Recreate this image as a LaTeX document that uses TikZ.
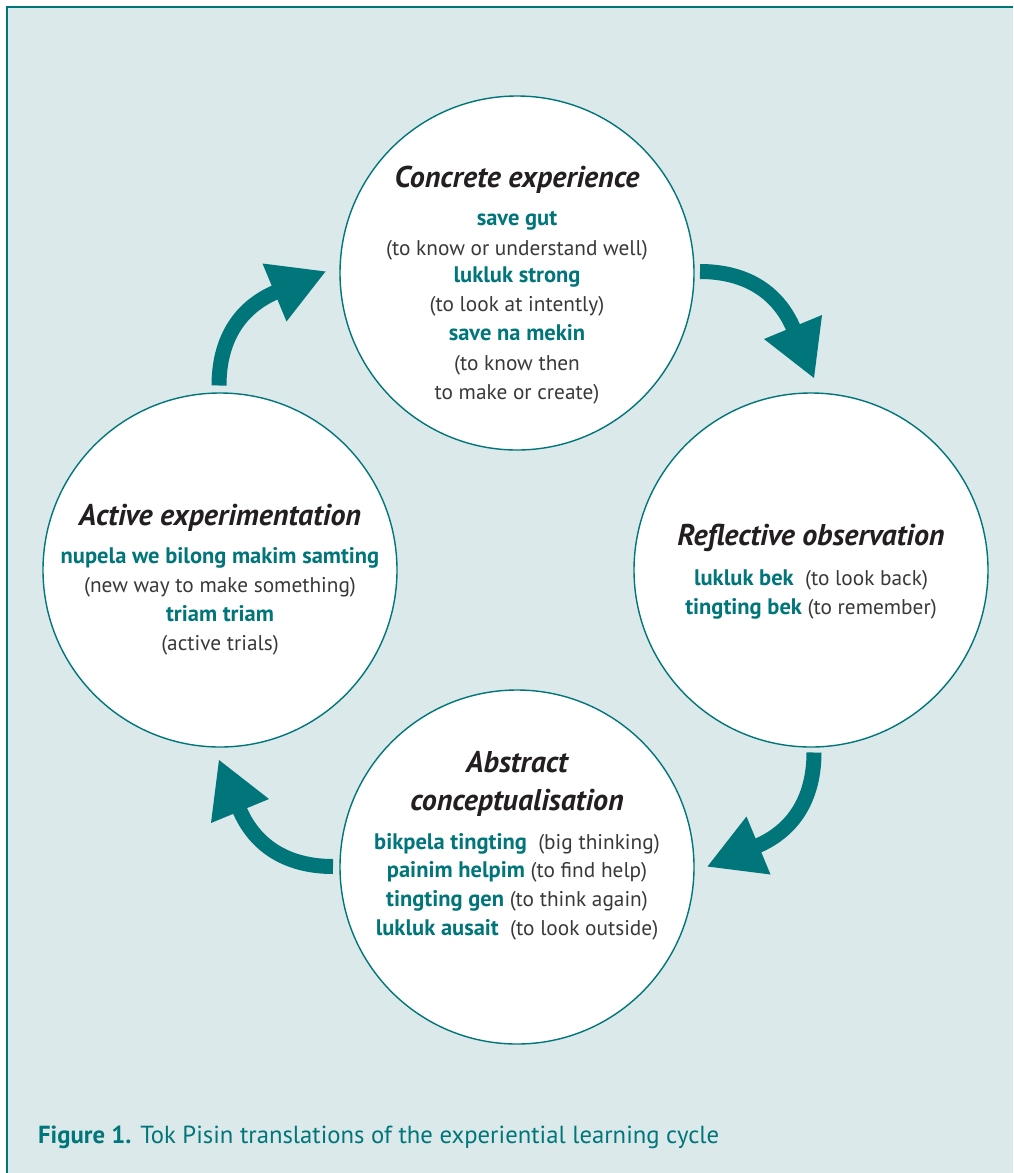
\documentclass[tikz,border=0pt]{standalone}
\usepackage{fontspec}
\setmainfont{PT Sans}
\definecolor{tealc}{HTML}{00757A}
\definecolor{bgc}{HTML}{DCE9EA}
\definecolor{txtc}{HTML}{231F20}
\definecolor{softc}{HTML}{3A3838}
\tikzset{
  stage/.style={circle, draw=tealc, line width=1.4pt, fill=white, minimum size=354pt, inner sep=0pt},
  ttl/.style={anchor=base, text=txtc, font=\fontsize{30}{34}\selectfont\bfseries\itshape, inner sep=0pt},
  term/.style={anchor=base, text=tealc, font=\fontsize{22.5}{26}\selectfont\bfseries, inner sep=0pt},
  gloss/.style={anchor=base, text=softc, font=\fontsize{21.3}{25}\selectfont, inner sep=0pt},
  mixed/.style={anchor=base, text=softc, font=\fontsize{21.3}{25}\selectfont, inner sep=0pt},
  band/.style={draw=tealc, line width=15pt, line cap=butt},
  head/.style={fill=tealc},
}
\newcommand{\tm}[1]{\textcolor{tealc}{\fontsize{22.5}{26}\selectfont\bfseries #1}}
\begin{document}
\begin{tikzpicture}[x=1pt,y=-1pt]
\useasboundingbox (0,0) rectangle (1013,1173);
\fill[white] (0,0) rectangle (1013,1173);
\fill[bgc] (7,7) rectangle (1013,1173);
\draw[tealc, line width=2pt] (7,1173) -- (7,7) -- (1013,7);

% arrows
\coordinate (a1s) at (700,271.5);
\coordinate (a1e) at (794.1,329.8);
\draw[band] (a1s) .. controls (741.7,271.5) and (777,288.6) .. (a1e);
\fill[head] (764,339) -- (822,315) -- (814,378) -- cycle;

\coordinate (a2s) at (814,752.5);
\coordinate (a2e) at (755.7,846.6);
\draw[band] (a2s) .. controls (814,794.2) and (796.9,829.5) .. (a2e);
\fill[head] (746.5,816.5) -- (770.5,874.5) -- (707.5,866.5) -- cycle;

\coordinate (a3s) at (333,866.5);
\coordinate (a3e) at (238.9,808.2);
\draw[band] (a3s) .. controls (291.3,866.5) and (256,849.4) .. (a3e);
\fill[head] (269,799) -- (211,823) -- (219,760) -- cycle;

\coordinate (a4s) at (219,385.5);
\coordinate (a4e) at (277.3,291.4);
\draw[band] (a4s) .. controls (219,343.8) and (236.1,308.5) .. (a4e);
\fill[head] (286.5,321.5) -- (262.5,263.5) -- (325.5,271.5) -- cycle;

% circles
\node[stage] (ce) at (517,273) {};
\node[stage] (ro) at (811,570) {};
\node[stage] (ae) at (220,570) {};
\node[stage] (ac) at (517,867) {};

% top circle text
\node[ttl] (ce0) at (517,187) {Concrete experience};
\node[term] (ce1) at (517,225) {save gut};
\node[gloss] (ce2) at (517,255) {(to know or understand well)};
\node[term] (ce3) at (517,282) {lukluk strong};
\node[gloss] (ce4) at (517,311) {(to look at intently)};
\node[term] (ce5) at (517,340) {save na mekin};
\node[gloss] (ce6) at (517,370) {(to know then};
\node[gloss] (ce7) at (517,399) {to make or create)};

% right circle text
\node[ttl] (ro0) at (811,545) {Reflective observation};
\node[mixed] (ro1) at (811,585) {\tm{lukluk bek}\ \ (to look back)};
\node[mixed] (ro2) at (811,614) {\tm{tingting bek} (to remember)};

% left circle text
\node[ttl] (ae0) at (220,525) {Active experimentation};
\node[term] (ae1) at (220,563) {nupela we bilong makim samting};
\node[gloss] (ae2) at (220,592) {(new way to make something)};
\node[term] (ae3) at (220,621) {triam triam};
\node[gloss] (ae4) at (220,650) {(active trials)};

% bottom circle text
\node[ttl] (ac0) at (517,772) {Abstract};
\node[ttl] (ac1) at (517,810) {conceptualisation};
\node[mixed] (ac2) at (517,849) {\tm{bikpela tingting}\ \ (big thinking)};
\node[mixed] (ac3) at (517,877) {\tm{painim helpim} (to find help)};
\node[mixed] (ac4) at (517,906) {\tm{tingting gen} (to think again)};
\node[mixed] (ac5) at (517,935) {\tm{lukluk ausait}\ \ (to look outside)};

% caption
\node[anchor=base west, inner sep=0pt, text=tealc, font=\fontsize{24.7}{28}\selectfont] (cap) at (38,1143) {\textbf{Figure 1.} Tok Pisin translations of the experiential learning cycle};
\end{tikzpicture}
\end{document}
